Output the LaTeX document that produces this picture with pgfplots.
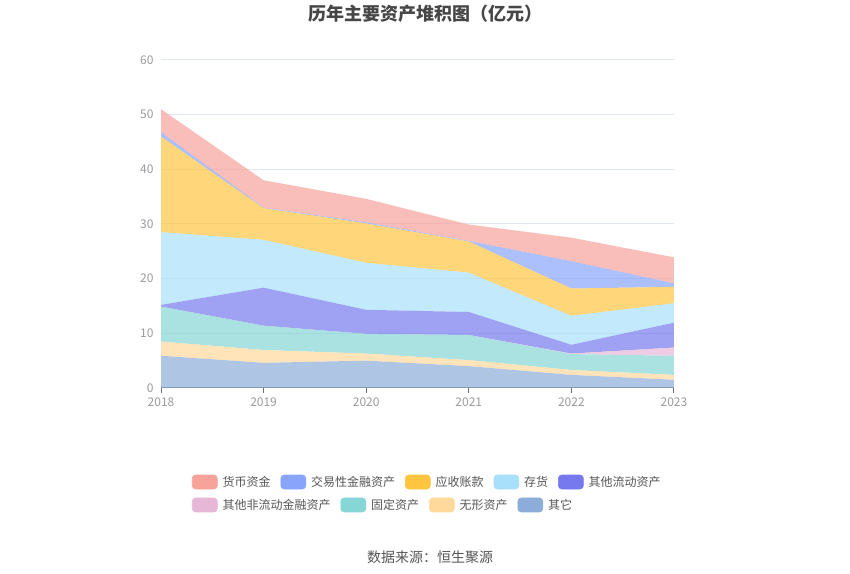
\documentclass[border=0pt]{standalone}
\usepackage{pgfplots}
\pgfplotsset{compat=1.18}
\usepackage{fontspec}
\setmainfont{Noto Sans CJK SC}
\definecolor{cHB}{HTML}{F7A29B}
\definecolor{cJY}{HTML}{88A5FB}
\definecolor{cYS}{HTML}{FFC440}
\definecolor{cCH}{HTML}{A8E0FB}
\definecolor{cQL}{HTML}{7679EE}
\definecolor{cFL}{HTML}{E7B7D7}
\definecolor{cGD}{HTML}{86D6D6}
\definecolor{cWX}{HTML}{FFD99B}
\definecolor{cQT}{HTML}{8CACD9}
\definecolor{gridc}{HTML}{E0E6F1}
\definecolor{axisc}{HTML}{6E7079}
\definecolor{tickc}{HTML}{9A9A9A}
\definecolor{titlec}{HTML}{464646}
\definecolor{legc}{HTML}{555555}
\begin{document}
\begin{tikzpicture}[x=1pt,y=1pt]
\path[use as bounding box] (0,0) rectangle (637.5,430.5);
\pgfplotsset{
  common/.style={
    at={(120.75pt,139.5pt)}, anchor=south west,
    scale only axis, width=384.75pt, height=246pt,
    xmin=2018, xmax=2023, ymin=0, ymax=60,
  },
  swatch/.style={legend image code/.code={
    \fill[#1, rounded corners=2.5pt] (0pt,-5.25pt) rectangle (18.75pt,5.25pt);}},
  legaxis/.style={common, hide axis,
    legend columns=-1,
    legend style={draw=none, fill=none, inner sep=0pt, outer sep=0pt,
      font=\fontsize{9pt}{11pt}\selectfont, text=legc,
      nodes={inner xsep=0pt, inner ysep=1pt},
      /tikz/every odd column/.append style={column sep=3.75pt},
      /tikz/every even column/.append style={column sep=7.5pt}}},
}
\begin{axis}[common,
  stack plots=y,
  axis x line*=bottom, axis y line*=left,
  y axis line style={draw=none},
  x axis line style={color=axisc, line width=0.75pt},
  ytick={0,10,...,60}, xtick={2018,...,2023},
  ytick style={draw=none},
  xtick style={color=axisc, line width=0.75pt},
  major tick length=3.75pt, tick align=outside,
  ymajorgrids, grid style={color=gridc, line width=0.75pt},
  /pgf/number format/1000 sep={},
  /pgf/number format/assume math mode=true,
  ticklabel style={font=\fontsize{9pt}{11pt}\selectfont, text=tickc},
  yticklabel style={inner sep=0pt, xshift=-1.75pt},
  xticklabel style={inner sep=0pt, yshift=-3.5pt},
  every axis plot/.append style={draw=none, fill opacity=0.7},
]
\addplot[fill=cQT] coordinates {(2018,5.9) (2019,4.6) (2020,5.0) (2021,4.0) (2022,2.4) (2023,1.5)} \closedcycle;
\addplot[fill=cWX] coordinates {(2018,2.6) (2019,2.35) (2020,1.3) (2021,1.1) (2022,0.9) (2023,0.9)} \closedcycle;
\addplot[fill=cGD] coordinates {(2018,6.4) (2019,4.45) (2020,3.6) (2021,4.6) (2022,2.9) (2023,3.5)} \closedcycle;
\addplot[fill=cFL] coordinates {(2018,0) (2019,0) (2020,0) (2021,0) (2022,0.1) (2023,1.5)} \closedcycle;
\addplot[fill=cQL] coordinates {(2018,0.3) (2019,6.95) (2020,4.4) (2021,4.2) (2022,1.6) (2023,4.55)} \closedcycle;
\addplot[fill=cCH] coordinates {(2018,13.3) (2019,8.75) (2020,8.6) (2021,7.2) (2022,5.3) (2023,3.55)} \closedcycle;
\addplot[fill=cYS] coordinates {(2018,17.5) (2019,5.8) (2020,7.2) (2021,5.7) (2022,5.0) (2023,3.0)} \closedcycle;
\addplot[fill=cJY] coordinates {(2018,0.8) (2019,0.1) (2020,0.2) (2021,0.1) (2022,5.0) (2023,0.65)} \closedcycle;
\addplot[fill=cHB] coordinates {(2018,4.2) (2019,5.0) (2020,4.3) (2021,3.0) (2022,4.3) (2023,4.75)} \closedcycle;
\end{axis}
\begin{axis}[legaxis, legend style={at={(0.0604,-0.2866)}, anchor=west}]
\addlegendimage{swatch=cHB}\addlegendentry{货币资金}
\addlegendimage{swatch=cJY}\addlegendentry{交易性金融资产}
\addlegendimage{swatch=cYS}\addlegendentry{应收账款}
\addlegendimage{swatch=cCH}\addlegendentry{存货}
\addlegendimage{swatch=cQL}\addlegendentry{其他流动资产}
\end{axis}
\begin{axis}[legaxis, legend style={at={(0.0604,-0.3567)}, anchor=west}]
\addlegendimage{swatch=cFL}\addlegendentry{其他非流动金融资产}
\addlegendimage{swatch=cGD}\addlegendentry{固定资产}
\addlegendimage{swatch=cWX}\addlegendentry{无形资产}
\addlegendimage{swatch=cQT}\addlegendentry{其它}
\end{axis}
\node[text=titlec, font=\fontsize{13.5pt}{16pt}\selectfont\bfseries] at (318.75,420) {历年主要资产堆积图（亿元）};
\node[text=legc, font=\fontsize{10.5pt}{12pt}\selectfont] at (322.5,12.75) {数据来源：恒生聚源};
\end{tikzpicture}
\end{document}
